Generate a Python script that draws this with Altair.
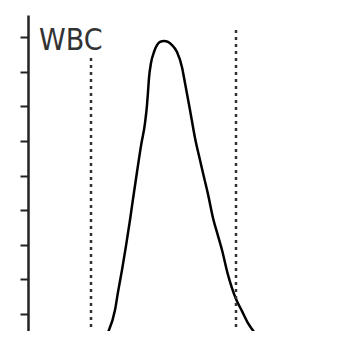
import altair as alt
import pandas as pd

# WBC histogram curve (x in channel units, y in count units)
curve_x = [73, 77, 81, 87, 90, 94, 98, 102, 105, 109, 113, 117, 119, 120, 121, 123,
           126, 129, 132, 136, 140, 144, 149, 154, 157, 162, 167, 171, 175, 180,
           185, 190, 194, 200, 208, 214, 220, 227, 232, 240]
curve_y = [0.00, 0.32, 0.52, 1.10, 1.62, 2.26, 2.96, 3.71, 4.32, 5.10, 5.86, 6.52,
           7.04, 7.42, 7.83, 8.26, 8.58, 8.78, 8.87, 8.90, 8.87, 8.78, 8.58, 8.14,
           7.68, 6.90, 6.09, 5.57, 5.07, 4.46, 3.77, 3.25, 2.84, 2.12, 1.42, 1.07,
           0.72, 0.43, 0.26, 0.00]

# discriminator (dotted) lines
marker_x = [63, 208]
marker_top = [8.43, 9.28]

y_ticks = [1, 2, 3, 4, 5, 6, 7, 8, 9]
labels = ["WBC"]

curve = pd.DataFrame({"x": curve_x, "y": curve_y})
markers = pd.DataFrame({"x": marker_x, "y0": [0.0] * len(marker_x), "y1": marker_top})
label_df = pd.DataFrame({"label": labels})

xs = alt.Scale(domain=[0, 321], nice=False, zero=False)
ys = alt.Scale(domain=[0.493, 9.652], nice=False, zero=False)
yaxis = alt.Axis(values=y_ticks, labels=False, title=None, grid=False,
                 tickSize=8, tickWidth=2, tickColor="#222",
                 domainColor="#222", domainWidth=2.5)

line = alt.Chart(curve).mark_line(
    color="black", strokeWidth=2.5, interpolate="monotone", clip=True
).encode(
    x=alt.X("x:Q", scale=xs, axis=None),
    y=alt.Y("y:Q", scale=ys, axis=yaxis),
)

rules = alt.Chart(markers).mark_rule(
    color="#333", strokeWidth=2.5, strokeDash=[3, 4], clip=True
).encode(
    x=alt.X("x:Q", scale=xs, axis=None),
    y=alt.Y("y0:Q", scale=ys, axis=yaxis),
    y2="y1:Q",
)

text = alt.Chart(label_df).mark_text(
    align="left", baseline="alphabetic",
    font="Liberation Sans Narrow, DejaVu Sans Condensed, sans-serif",
    fontSize=30, color="#333",
).encode(
    text="label:N",
    x=alt.value(11),
    y=alt.value(35),
)

chart = alt.layer(line, rules, text).properties(
    width=321, height=316,
    autosize=alt.AutoSizeParams(type="none"),
    padding={"left": 20, "top": 7, "right": 0, "bottom": 0},
).configure_view(strokeWidth=0)

chart.save("out.html", embed_options={"renderer": "svg", "actions": False})
